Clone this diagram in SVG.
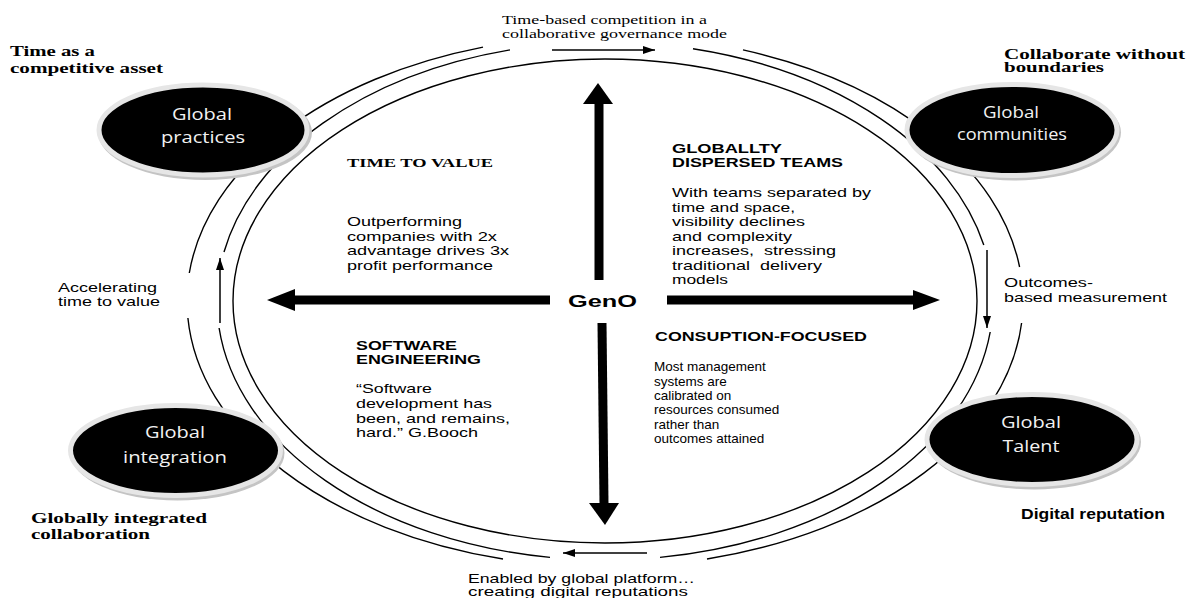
<svg xmlns="http://www.w3.org/2000/svg" width="1189" height="598" viewBox="0 0 1189 598">
<style>
.ring{fill:none;stroke:#000;stroke-width:1.4}
.sm{fill:none;stroke:#000;stroke-width:1.5}
.big{fill:none;stroke:#000;stroke-width:9}
.head{fill:#000}
.shadow{fill:#c4c4c4}
.node{fill:#000;stroke:#e6e6e6;stroke-width:5}
.nt{font-family:"Open Sans","Noto Sans",sans-serif;font-size:16px;fill:#f2f2f2;text-anchor:middle}
.tb{font-family:"Liberation Serif","Times New Roman",serif;font-weight:bold;font-size:14px;fill:#000}
.tr{font-family:"Liberation Serif","Times New Roman",serif;font-size:13.5px;fill:#000}
.ar{font-family:"Liberation Sans",Arial,sans-serif;font-size:13px;fill:#000}
.ab{font-family:"Liberation Sans",Arial,sans-serif;font-weight:bold;font-size:13px;fill:#000}
.pre{white-space:pre}
</style>
<defs>
<marker id="ah" markerUnits="userSpaceOnUse" markerWidth="12" markerHeight="8" refX="12" refY="4" orient="auto">
<path d="M0,0 L12,4 L0,8 z" fill="#000"/>
</marker>
</defs>
<rect width="1189" height="598" fill="#fff"/>

<g id="connectors">
<ellipse class="ring" cx="605" cy="301" rx="372" ry="242"/>
<path class="ring" d="M693,48.7 A388,259 0 0 1 983.8,245"/>
<path class="ring" d="M990.2,332 A388,259 0 0 1 660,557.4"/>
<path class="ring" d="M550,557.4 A388,259 0 0 1 219.1,328"/>
<path class="ring" d="M224,252 A388,259 0 0 1 510,49.9"/>
<path class="ring" d="M743,49.9 A418,266 0 0 1 1019.6,267"/>
<path class="ring" d="M1021.6,323 A418,266 0 0 1 707,559"/>
<path class="ring" d="M503,559 A418,266 0 0 1 187.9,318"/>
<path class="ring" d="M189.3,273 A418,266 0 0 1 483,47.1"/>
<line class="sm" x1="552" y1="50" x2="655" y2="50" marker-end="url(#ah)"/>
<line class="sm" x1="987" y1="250" x2="987" y2="328" marker-end="url(#ah)"/>
<line class="sm" x1="647" y1="553" x2="563" y2="553" marker-end="url(#ah)"/>
<line class="sm" x1="220" y1="323" x2="220" y2="258" marker-end="url(#ah)"/>
<line class="big" x1="599" y1="280" x2="599" y2="102"/>
<polygon class="head" points="583,104 598,83 613,104"/>
<line class="big" x1="602" y1="323" x2="604" y2="504"/>
<polygon class="head" points="589,503 605,525 619,503"/>
<line class="big" x1="550" y1="300" x2="294" y2="300"/>
<polygon class="head" points="295,289 267,300 295,311"/>
<line class="big" x1="667" y1="300" x2="914" y2="300"/>
<polygon class="head" points="913,290 940,300 913,310"/>
</g>

<g id="node-practices">
<ellipse class="shadow" cx="205" cy="132.5" rx="107" ry="47.5"/>
<ellipse class="node" cx="203" cy="130" rx="104" ry="45"/>
<text class="nt" x="202" y="120" textLength="60" lengthAdjust="spacingAndGlyphs">Global</text>
<text class="nt" x="203" y="143" textLength="84" lengthAdjust="spacingAndGlyphs">practices</text>
</g>
<g id="node-communities">
<ellipse class="shadow" cx="1014" cy="132.5" rx="107" ry="48"/>
<ellipse class="node" cx="1012" cy="130" rx="105" ry="45.5"/>
<text class="nt" x="1011" y="118" textLength="56" lengthAdjust="spacingAndGlyphs">Global</text>
<text class="nt" x="1012" y="140" textLength="110" lengthAdjust="spacingAndGlyphs">communities</text>
</g>
<g id="node-integration">
<ellipse class="shadow" cx="177.5" cy="453" rx="107" ry="47.5"/>
<ellipse class="node" cx="175.5" cy="450.5" rx="105" ry="45"/>
<text class="nt" x="175" y="438" textLength="60" lengthAdjust="spacingAndGlyphs">Global</text>
<text class="nt" x="175" y="463" textLength="104" lengthAdjust="spacingAndGlyphs">integration</text>
</g>
<g id="node-talent">
<ellipse class="shadow" cx="1034" cy="442" rx="107" ry="47.5"/>
<ellipse class="node" cx="1032" cy="439.5" rx="105" ry="45"/>
<text class="nt" x="1031" y="428" textLength="60" lengthAdjust="spacingAndGlyphs">Global</text>
<text class="nt" x="1031" y="452" textLength="57" lengthAdjust="spacingAndGlyphs">Talent</text>
</g>

<g id="node-geno">
<text class="ab" x="568" y="307" style="font-size:17px" textLength="69" lengthAdjust="spacingAndGlyphs">GenO</text>
</g>

<g id="labels-corners">
<text class="tb" x="10" y="56" textLength="85" lengthAdjust="spacingAndGlyphs">Time as a</text>
<text class="tb" x="10" y="73" textLength="153" lengthAdjust="spacingAndGlyphs">competitive asset</text>
<text class="tb" x="1004" y="59" textLength="181" lengthAdjust="spacingAndGlyphs">Collaborate without</text>
<text class="tb" x="1004" y="72" textLength="100" lengthAdjust="spacingAndGlyphs">boundaries</text>
<text class="tb" x="31" y="523" textLength="176" lengthAdjust="spacingAndGlyphs">Globally integrated</text>
<text class="tb" x="31" y="539" textLength="119" lengthAdjust="spacingAndGlyphs">collaboration</text>
<text class="ab" x="1021" y="519" style="font-size:14px" textLength="144" lengthAdjust="spacingAndGlyphs">Digital reputation</text>
</g>

<g id="labels-ring">
<text class="tr" x="502" y="24" textLength="205" lengthAdjust="spacingAndGlyphs">Time-based competition in a</text>
<text class="tr" x="502" y="38" textLength="225" lengthAdjust="spacingAndGlyphs">collaborative governance mode</text>
<text class="ar" x="58" y="292" textLength="99" lengthAdjust="spacingAndGlyphs">Accelerating</text>
<text class="ar" x="58" y="306" textLength="102" lengthAdjust="spacingAndGlyphs">time to value</text>
<text class="ar" x="1004" y="287" textLength="89" lengthAdjust="spacingAndGlyphs">Outcomes-</text>
<text class="ar" x="1004" y="302" textLength="163" lengthAdjust="spacingAndGlyphs">based measurement</text>
<text class="ar" x="468" y="583" textLength="227" lengthAdjust="spacingAndGlyphs">Enabled by global platform…</text>
<text class="ar" x="468" y="596" textLength="220" lengthAdjust="spacingAndGlyphs">creating digital reputations</text>
</g>

<g id="quadrant-time">
<text class="tb" x="347" y="167" style="font-size:12.5px" textLength="146" lengthAdjust="spacingAndGlyphs">TIME TO VALUE</text>
<text class="ar" x="347" y="226" textLength="115" lengthAdjust="spacingAndGlyphs">Outperforming</text>
<text class="ar" x="347" y="240.5" textLength="150" lengthAdjust="spacingAndGlyphs">companies with 2x</text>
<text class="ar" x="347" y="255" textLength="162" lengthAdjust="spacingAndGlyphs">advantage drives 3x</text>
<text class="ar" x="347" y="269.5" textLength="146" lengthAdjust="spacingAndGlyphs">profit performance</text>
</g>

<g id="quadrant-teams">
<text class="ab" x="672" y="153" textLength="110" lengthAdjust="spacingAndGlyphs">GLOBALLTY</text>
<text class="ab" x="672" y="167" textLength="171" lengthAdjust="spacingAndGlyphs">DISPERSED TEAMS</text>
<text class="ar" x="672" y="197" textLength="199" lengthAdjust="spacingAndGlyphs">With teams separated by</text>
<text class="ar" x="672" y="211.5" textLength="123" lengthAdjust="spacingAndGlyphs">time and space,</text>
<text class="ar" x="672" y="226" textLength="133" lengthAdjust="spacingAndGlyphs">visibility declines</text>
<text class="ar" x="672" y="240.5" textLength="120" lengthAdjust="spacingAndGlyphs">and complexity</text>
<text class="ar pre" x="672" y="255" textLength="164" lengthAdjust="spacingAndGlyphs">increases,  stressing</text>
<text class="ar pre" x="672" y="269.5" textLength="150" lengthAdjust="spacingAndGlyphs">traditional  delivery</text>
<text class="ar" x="672" y="284" textLength="56" lengthAdjust="spacingAndGlyphs">models</text>
</g>

<g id="quadrant-software">
<text class="ab" x="356" y="350" textLength="101" lengthAdjust="spacingAndGlyphs">SOFTWARE</text>
<text class="ab" x="356" y="364" textLength="125" lengthAdjust="spacingAndGlyphs">ENGINEERING</text>
<text class="ar" x="356" y="393" textLength="76" lengthAdjust="spacingAndGlyphs">“Software</text>
<text class="ar" x="356" y="408" textLength="136" lengthAdjust="spacingAndGlyphs">development has</text>
<text class="ar" x="356" y="423" textLength="154" lengthAdjust="spacingAndGlyphs">been, and remains,</text>
<text class="ar" x="356" y="437" textLength="122" lengthAdjust="spacingAndGlyphs">hard.” G.Booch</text>
</g>

<g id="quadrant-consumption">
<text class="ab" x="655" y="341" textLength="212" lengthAdjust="spacingAndGlyphs">CONSUPTION-FOCUSED</text>
<text class="ar" x="654" y="371" style="font-size:13.5px">Most management</text>
<text class="ar" x="654" y="385.5" style="font-size:13.5px">systems are</text>
<text class="ar" x="654" y="400" style="font-size:13.5px">calibrated on</text>
<text class="ar" x="654" y="414" style="font-size:13.5px">resources consumed</text>
<text class="ar" x="654" y="428.5" style="font-size:13.5px">rather than</text>
<text class="ar" x="654" y="442.5" style="font-size:13.5px">outcomes attained</text>
</g>
</svg>
